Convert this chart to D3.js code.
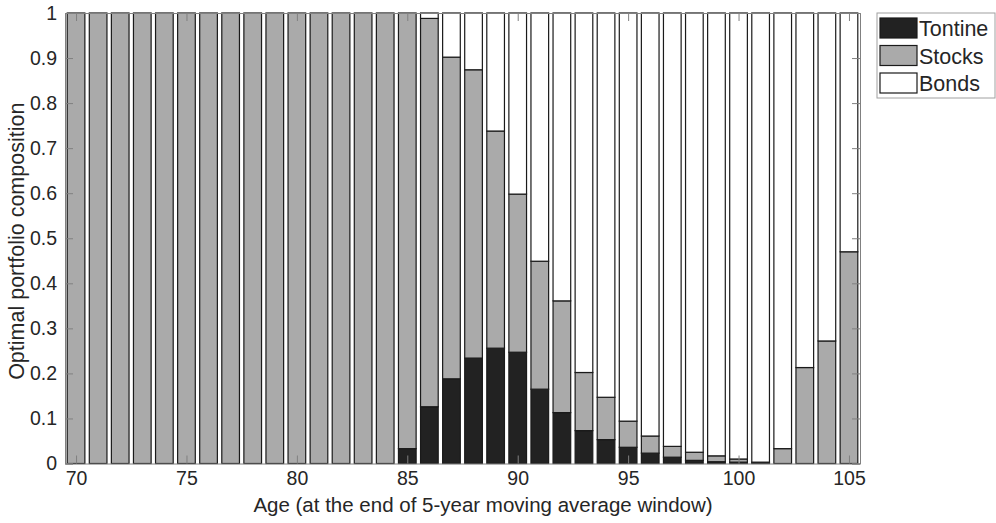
<!DOCTYPE html>
<html>
<head>
<meta charset="utf-8">
<title>Optimal portfolio composition</title>
<script src="https://d3js.org/d3.v7.min.js"></script>
<style>
  body { margin: 0; background: #fff; }
  svg text { font-family: "Liberation Sans", Arial, Helvetica, sans-serif; fill: #262626; }
</style>
</head>
<body>
<div id="chart"></div>
<script>
// Data
const ages = d3.range(70, 106);
const tontine = [0,0,0,0,0,0,0,0,0,0,0,0,0,0,0,
  0.033,0.126,0.188,0.234,0.256,0.247,0.165,0.113,0.073,0.053,
  0.036,0.023,0.014,0.007,0.004,0.003,0.001,0,0,0,0];
const stocks = [1,1,1,1,1,1,1,1,1,1,1,1,1,1,1,
  0.967,0.862,0.714,0.640,0.482,0.351,0.284,0.248,0.129,0.094,
  0.058,0.038,0.024,0.018,0.013,0.007,0.002,0.033,0.213,0.272,0.470];
const bonds = [0,0,0,0,0,0,0,0,0,0,0,0,0,0,0,
  0,0.012,0.098,0.126,0.262,0.402,0.551,0.639,0.798,0.853,
  0.906,0.939,0.962,0.975,0.983,0.990,0.997,0.967,0.787,0.728,0.530];
const seriesNames = ["Tontine", "Stocks", "Bonds"];
const seriesColors = ["#222222", "#aaaaaa", "#ffffff"];
const xTicks = [70, 75, 80, 85, 90, 95, 100, 105];
const yTicks = [0, 0.1, 0.2, 0.3, 0.4, 0.5, 0.6, 0.7, 0.8, 0.9, 1];

const W = 996, H = 523;
const plotL = 65, plotR = 860, plotT = 13, plotB = 463.5;

const rows = ages.map((a, i) => ({ age: a, Tontine: tontine[i], Stocks: stocks[i], Bonds: bonds[i] }));
const stacked = d3.stack().keys(seriesNames)(rows);

const x = d3.scaleLinear().domain([69.5, 105.5]).range([plotL, plotR]);
const y = d3.scaleLinear().domain([0, 1]).range([plotB, plotT]);
const barW = 0.8 * (x(1) - x(0));

const svg = d3.select("#chart").append("svg")
  .attr("width", W).attr("height", H);

// bars
stacked.forEach((layer, k) => {
  svg.append("g").selectAll("rect")
    .data(layer)
    .enter().append("rect")
    .attr("x", d => x(d.data.age) - barW / 2)
    .attr("y", d => y(d[1]))
    .attr("width", barW)
    .attr("height", d => y(d[0]) - y(d[1]))
    .attr("fill", seriesColors[k])
    .attr("stroke", "#1a1a1a")
    .attr("stroke-width", 1.2);
});

// axes (ticks inward, on all four sides)
const tickLen = 8;
const axisCol = "#808080";
svg.append("g").attr("transform", `translate(0,${plotB})`)
  .call(d3.axisBottom(x).tickValues(xTicks).tickSize(-tickLen).tickPadding(8).tickFormat(d3.format("d")))
  .call(g => g.select(".domain").attr("stroke", axisCol))
  .call(g => g.selectAll(".tick line").attr("stroke", axisCol))
  .call(g => g.selectAll(".tick text").attr("font-size", 19.5).attr("fill", "#262626")
    .attr("font-family", "Liberation Sans, Arial, sans-serif"));

svg.append("g").attr("transform", `translate(0,${plotT})`)
  .call(d3.axisTop(x).tickValues(xTicks).tickSize(-tickLen).tickFormat(""))
  .call(g => g.select(".domain").attr("stroke", axisCol))
  .call(g => g.selectAll(".tick line").attr("stroke", axisCol));

svg.append("g").attr("transform", `translate(${plotL},0)`)
  .call(d3.axisLeft(y).tickValues(yTicks).tickSize(-tickLen).tickPadding(8).tickFormat(d => d3.format("")(d)))
  .call(g => g.select(".domain").attr("stroke", axisCol))
  .call(g => g.selectAll(".tick line").attr("stroke", axisCol))
  .call(g => g.selectAll(".tick text").attr("font-size", 19.5).attr("fill", "#262626")
    .attr("font-family", "Liberation Sans, Arial, sans-serif"));

svg.append("g").attr("transform", `translate(${plotR},0)`)
  .call(d3.axisRight(y).tickValues(yTicks).tickSize(-tickLen).tickFormat(""))
  .call(g => g.select(".domain").attr("stroke", axisCol))
  .call(g => g.selectAll(".tick line").attr("stroke", axisCol));

// axis titles
svg.append("text")
  .attr("x", 483)
  .attr("y", 512)
  .attr("text-anchor", "middle")
  .attr("font-size", 20.5)
  .text("Age (at the end of 5-year moving average window)");

svg.append("text")
  .attr("transform", `translate(24,${(plotT + plotB) / 2 + 3}) rotate(-90)`)
  .attr("text-anchor", "middle")
  .attr("font-size", 21.5)
  .text("Optimal portfolio composition");

// legend
const legend = svg.append("g").attr("transform", "translate(877,13)");
legend.append("rect")
  .attr("width", 118).attr("height", 85)
  .attr("fill", "#fff").attr("stroke", "#a0a0a0").attr("stroke-width", 1);
seriesNames.forEach((name, i) => {
  const row = legend.append("g").attr("transform", `translate(0,${5 + i * 27.5})`);
  row.append("rect")
    .attr("x", 3).attr("y", 0).attr("width", 37).attr("height", 20)
    .attr("fill", seriesColors[i]).attr("stroke", "#1a1a1a").attr("stroke-width", 1.2);
  row.append("text")
    .attr("x", 42).attr("y", 18)
    .attr("font-size", 21.5)
    .text(name);
});
</script>
</body>
</html>
